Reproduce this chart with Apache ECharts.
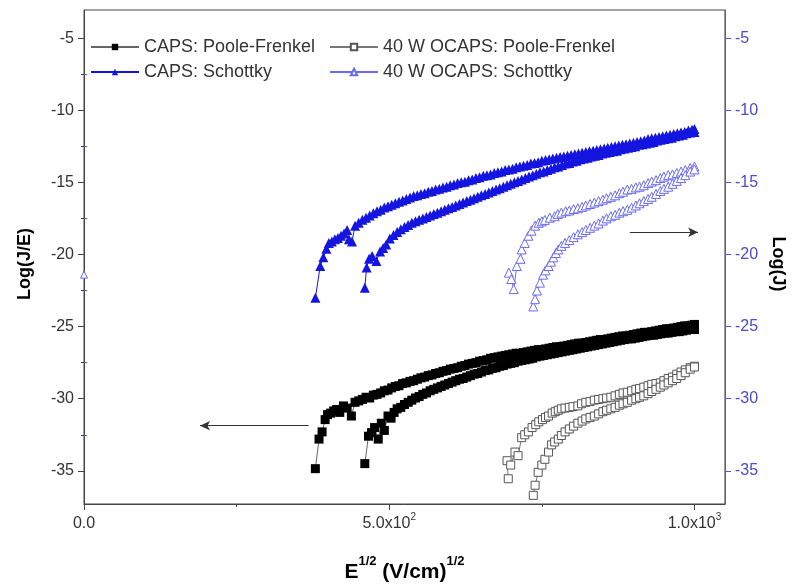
<!DOCTYPE html>
<html>
<head>
<meta charset="utf-8">
<script src="https://cdn.jsdelivr.net/npm/echarts@6/dist/echarts.min.js"></script>
<style>html,body{margin:0;padding:0;background:#fff;}#c{width:795px;height:588px;}</style>
</head>
<body>
<div id="c"></div>
<script>
// ---- data ----
const xTicks = [0, 500, 1000];
const xMinorTicks = [250, 750];
const yTicks = [-35, -30, -25, -20, -15, -10, -5];
const yMinorTicks = [-32.5, -27.5, -22.5, -17.5, -12.5, -7.5];

const capsPF_A = [[379,-34.85],[385,-32.8],[390,-32.3],[395,-31.45],[399,-31.1],[404,-31.0],[409,-30.85],[414,-30.75],[419,-30.95],[425,-30.5],[431,-30.65],[438,-31.2],[444,-30.25],[450,-30.15],[456,-30.05],[462,-29.9],[468,-29.95],[474,-29.75],[480,-29.7],[486,-29.6],[492,-29.45],[498,-29.4],[504,-29.25],[510,-29.15],[516,-29.1],[522,-28.95],[528,-28.9],[534,-28.8],[540,-28.75],[546,-28.65],[552,-28.55],[558,-28.5],[564,-28.4],[570,-28.35],[576,-28.25],[582,-28.2],[588,-28.1],[594,-28.05],[600,-27.95],[606,-27.9],[612,-27.85],[618,-27.75],[624,-27.7],[630,-27.6],[636,-27.55],[642,-27.5],[648,-27.4],[654,-27.35],[660,-27.3],[666,-27.2],[672,-27.15],[678,-27.1],[684,-27.05],[690,-27.0],[696,-26.95],[702,-26.9],[708,-26.85],[714,-26.85],[720,-26.8],[726,-26.75],[732,-26.7],[738,-26.65],[744,-26.6],[750,-26.6],[756,-26.55],[762,-26.5],[768,-26.45],[774,-26.4],[780,-26.4],[786,-26.35],[792,-26.3],[798,-26.25],[804,-26.2],[810,-26.15],[816,-26.15],[822,-26.1],[828,-26.05],[834,-26.0],[840,-25.95],[846,-25.9],[852,-25.9],[858,-25.85],[864,-25.8],[870,-25.75],[876,-25.7],[882,-25.65],[888,-25.65],[894,-25.6],[900,-25.55],[906,-25.5],[912,-25.45],[918,-25.4],[924,-25.4],[930,-25.35],[936,-25.3],[942,-25.25],[948,-25.2],[954,-25.15],[960,-25.15],[966,-25.1],[972,-25.05],[978,-25.0],[984,-24.95],[990,-24.95],[996,-24.9],[1000,-24.85]];
const capsPF_B = [[460,-34.5],[466,-32.6],[471,-32.35],[476,-32.0],[482,-32.8],[487,-31.7],[492,-32.2],[498,-31.2],[503,-31.35],[508,-30.95],[513,-30.7],[519,-30.6],[525,-30.4],[531,-30.25],[537,-30.1],[543,-29.95],[549,-29.85],[555,-29.7],[561,-29.6],[567,-29.45],[573,-29.35],[579,-29.25],[585,-29.15],[591,-29.05],[597,-28.95],[603,-28.85],[609,-28.75],[615,-28.65],[621,-28.6],[627,-28.5],[633,-28.4],[639,-28.3],[645,-28.25],[651,-28.15],[657,-28.05],[663,-28.0],[669,-27.9],[675,-27.85],[681,-27.75],[687,-27.7],[693,-27.6],[699,-27.55],[705,-27.5],[711,-27.4],[717,-27.35],[723,-27.3],[729,-27.25],[735,-27.2],[741,-27.1],[747,-27.05],[753,-27.0],[759,-26.95],[765,-26.9],[771,-26.85],[777,-26.8],[783,-26.75],[789,-26.7],[795,-26.65],[801,-26.6],[807,-26.55],[813,-26.5],[819,-26.45],[825,-26.4],[831,-26.35],[837,-26.3],[843,-26.25],[849,-26.2],[855,-26.15],[861,-26.1],[867,-26.05],[873,-26.0],[879,-25.95],[885,-25.9],[891,-25.85],[897,-25.85],[903,-25.8],[909,-25.75],[915,-25.7],[921,-25.65],[927,-25.6],[933,-25.6],[939,-25.55],[945,-25.5],[951,-25.45],[957,-25.45],[963,-25.4],[969,-25.35],[975,-25.35],[981,-25.3],[987,-25.25],[993,-25.2],[1000,-25.2]];

const ocapsPF_A = [[695,-35.55],[693,-34.3],[699,-34.6],[706,-33.7],[711,-33.95],[717,-32.7],[722,-32.5],[728,-32.3],[734,-32.0],[740,-31.8],[745,-31.6],[751,-31.45],[756,-31.3],[761,-31.2],[767,-31.0],[772,-30.9],[777,-30.8],[782,-30.7],[788,-30.65],[795,-30.6],[801,-30.55],[809,-30.5],[815,-30.35],[822,-30.25],[829,-30.2],[836,-30.1],[843,-30.05],[850,-30.0],[856,-29.95],[863,-29.9],[870,-29.8],[877,-29.7],[883,-29.6],[890,-29.55],[897,-29.45],[904,-29.35],[910,-29.3],[917,-29.2],[924,-29.1],[930,-29.0],[937,-28.95],[944,-28.9],[950,-28.75],[957,-28.6],[964,-28.5],[971,-28.3],[978,-28.15],[985,-28.0],[993,-27.85],[1000,-27.75]];
const ocapsPF_B = [[736,-36.7],[739,-36.0],[744,-35.1],[750,-34.6],[755,-34.2],[761,-33.7],[766,-33.2],[771,-33.0],[777,-32.8],[782,-32.55],[788,-32.3],[795,-32.1],[802,-31.9],[809,-31.7],[816,-31.55],[822,-31.4],[829,-31.3],[836,-31.2],[843,-31.05],[850,-30.9],[856,-30.8],[863,-30.7],[870,-30.6],[877,-30.45],[883,-30.35],[890,-30.25],[897,-30.1],[904,-30.0],[910,-29.9],[917,-29.8],[924,-29.65],[930,-29.5],[937,-29.35],[944,-29.2],[950,-29.05],[957,-28.9],[964,-28.75],[971,-28.6],[978,-28.4],[985,-28.2],[993,-27.95],[1000,-27.8]];

const capsSch_A = [[379,-23.0],[387,-20.8],[392,-20.2],[397,-19.6],[401,-19.2],[406,-19.1],[411,-18.95],[416,-18.85],[421,-18.7],[426,-18.55],[431,-18.3],[434,-18.95],[439,-19.1],[444,-18.0],[450,-17.8],[456,-17.6],[462,-17.45],[468,-17.3],[474,-17.15],[480,-17.0],[486,-16.9],[492,-16.75],[498,-16.65],[504,-16.55],[510,-16.45],[516,-16.35],[522,-16.25],[528,-16.15],[534,-16.05],[540,-15.95],[546,-15.9],[552,-15.8],[558,-15.75],[564,-15.65],[570,-15.6],[576,-15.5],[582,-15.45],[588,-15.35],[594,-15.3],[600,-15.2],[606,-15.15],[612,-15.05],[618,-15.0],[624,-14.95],[630,-14.85],[636,-14.8],[642,-14.7],[648,-14.65],[654,-14.55],[660,-14.5],[666,-14.45],[672,-14.35],[678,-14.3],[684,-14.25],[690,-14.15],[696,-14.1],[702,-14.05],[708,-13.95],[714,-13.9],[720,-13.85],[726,-13.8],[732,-13.7],[738,-13.65],[744,-13.6],[750,-13.5],[756,-13.45],[762,-13.4],[768,-13.35],[774,-13.3],[780,-13.25],[786,-13.2],[792,-13.15],[798,-13.1],[804,-13.05],[810,-13.0],[816,-12.95],[822,-12.9],[828,-12.85],[834,-12.8],[840,-12.75],[846,-12.7],[852,-12.65],[858,-12.6],[864,-12.55],[870,-12.5],[876,-12.45],[882,-12.4],[888,-12.35],[894,-12.3],[900,-12.25],[906,-12.2],[912,-12.15],[918,-12.1],[924,-12.0],[930,-11.95],[936,-11.9],[942,-11.85],[948,-11.8],[954,-11.75],[960,-11.7],[966,-11.65],[972,-11.6],[978,-11.55],[984,-11.5],[990,-11.4],[996,-11.35],[1000,-11.3]];
const capsSch_B = [[460,-22.3],[463,-20.9],[467,-20.3],[472,-20.1],[479,-20.45],[485,-19.8],[490,-19.55],[495,-19.3],[501,-18.9],[507,-18.65],[513,-18.45],[519,-18.25],[525,-18.1],[531,-17.95],[537,-17.8],[543,-17.7],[549,-17.6],[555,-17.5],[561,-17.4],[567,-17.3],[573,-17.2],[579,-17.1],[585,-17.0],[591,-16.9],[597,-16.8],[603,-16.7],[609,-16.6],[615,-16.5],[621,-16.4],[627,-16.3],[633,-16.2],[639,-16.1],[645,-16.0],[651,-15.9],[657,-15.8],[663,-15.7],[669,-15.6],[675,-15.5],[681,-15.4],[687,-15.3],[693,-15.2],[699,-15.1],[705,-15.0],[711,-14.9],[717,-14.8],[723,-14.7],[729,-14.6],[735,-14.5],[741,-14.4],[747,-14.3],[753,-14.25],[759,-14.15],[765,-14.05],[771,-13.95],[777,-13.9],[783,-13.8],[789,-13.7],[795,-13.65],[801,-13.55],[807,-13.5],[813,-13.4],[819,-13.35],[825,-13.3],[831,-13.2],[837,-13.15],[843,-13.1],[849,-13.0],[855,-12.95],[861,-12.9],[867,-12.85],[873,-12.8],[879,-12.7],[885,-12.65],[891,-12.6],[897,-12.55],[903,-12.5],[909,-12.4],[915,-12.35],[921,-12.3],[927,-12.25],[933,-12.2],[939,-12.1],[945,-12.05],[951,-12.0],[957,-11.95],[963,-11.9],[969,-11.8],[975,-11.75],[981,-11.7],[987,-11.6],[993,-11.55],[1000,-11.5]];

const ocapsSch_A = [[696,-21.26],[700,-21.7],[704,-22.4],[709,-20.8],[715,-20.3],[717,-19.65],[722,-19.2],[728,-18.7],[733,-18.35],[739,-18.0],[745,-17.8],[750,-17.7],[755,-17.6],[763,-17.45],[771,-17.35],[776,-17.2],[782,-17.1],[789,-17.0],[795,-16.95],[802,-16.85],[809,-16.8],[816,-16.7],[822,-16.6],[829,-16.5],[836,-16.4],[843,-16.3],[850,-16.2],[856,-16.1],[863,-16.0],[870,-15.9],[877,-15.75],[883,-15.65],[890,-15.5],[897,-15.45],[904,-15.35],[910,-15.3],[917,-15.2],[924,-15.05],[930,-14.95],[937,-14.85],[944,-14.7],[950,-14.6],[957,-14.5],[964,-14.45],[971,-14.35],[978,-14.25],[985,-14.15],[993,-14.0],[1000,-13.9]];
const ocapsSch_B = [[736,-23.6],[739,-23.1],[742,-22.5],[747,-21.95],[752,-21.4],[756,-21.1],[761,-20.8],[765,-20.5],[769,-20.2],[773,-19.9],[777,-19.65],[782,-19.4],[788,-19.2],[795,-19.0],[802,-18.8],[809,-18.6],[816,-18.45],[822,-18.3],[829,-18.15],[836,-18.0],[843,-17.85],[850,-17.65],[856,-17.5],[863,-17.35],[870,-17.25],[877,-17.1],[883,-17.0],[890,-16.9],[897,-16.75],[904,-16.6],[910,-16.45],[917,-16.3],[924,-16.15],[930,-16.0],[937,-15.8],[944,-15.6],[950,-15.45],[957,-15.3],[964,-15.1],[971,-14.9],[978,-14.7],[985,-14.5],[993,-14.25],[1000,-14.1]];
const ocapsSch_stray = [[0,-21.4]];

const arrowLeft = [[368,-31.87],[190,-31.87]];
const arrowRight = [[894,-18.46],[1006,-18.46]];

const names = ['CAPS: Poole-Frenkel','CAPS: Schottky','40 W OCAPS: Poole-Frenkel','40 W OCAPS: Schottky'];

// ---- chart ----
const FF = "'Liberation Sans', Arial, Helvetica, sans-serif";
const chart = echarts.init(document.getElementById('c'), null, {renderer:'canvas'});
const axisGray = '#444';
const blueAxis = '#5555cc';
const Y_MIN = -37.3, Y_MAX = -3.05, X_MIN = 0, X_MAX = 1050;

function yAxisMain(pos, color, labelColor, name, nameGap, nameRotate, namePad) {
  return {
    type:'value', min:Y_MIN, max:Y_MAX, position:pos,
    axisLine:{show:true, onZero:false, lineStyle:{color:color, width:1}},
    axisTick:{show:true, inside:false, length:6, customValues:yTicks, lineStyle:{color:color}},
    axisLabel:{show:true, customValues:yTicks, formatter:v=>String(v), color:labelColor, fontSize:16, fontFamily:FF, margin:10},
    splitLine:{show:false},
    name:name, nameLocation:'middle', nameGap:nameGap, nameRotate:nameRotate,
    nameTextStyle:{fontSize:18, fontWeight:'bold', color:'#000', fontFamily:FF, padding:namePad}
  };
}
function yAxisMinor(pos, color) {
  return {
    type:'value', min:Y_MIN, max:Y_MAX, position:pos,
    axisLine:{show:false}, axisLabel:{show:false}, splitLine:{show:false},
    axisTick:{show:true, inside:false, length:3, customValues:yMinorTicks, lineStyle:{color:color}}
  };
}

const baseSeries = {type:'line', showSymbol:true, showAllSymbol:true, animation:false, silent:true, z:3};
function mk(name, data, yIdx, symbol, size, itemStyle, lineColor, extra) {
  return Object.assign({}, baseSeries, {
    name:name, data:data, xAxisIndex:0, yAxisIndex:yIdx,
    symbol:symbol, symbolSize:size, itemStyle:itemStyle,
    lineStyle:{color:lineColor, width:1}
  }, extra || {});
}

const black = {color:'#000'};
const openSq = {color:'#fff', borderColor:'#555', borderWidth:1};
const blueFill = {color:'#1515e0'};
const openTri = {color:'#fff', borderColor:'#6a6af0', borderWidth:1};

const arrowML = (pts) => ({
  silent:true, symbol:['none','arrow'], symbolSize:[7,10], animation:false,
  lineStyle:{color:'#333', width:1, type:'solid'}, label:{show:false},
  emphasis:{disabled:true},
  data:[[{coord:pts[0]},{coord:pts[1]}]]
});

const option = {
  backgroundColor:'#fff',
  animation:false,
  grid:{left:84, right:65, top:10, bottom:83, show:true, borderColor:axisGray, borderWidth:1, backgroundColor:'transparent'},
  legend:[
    {data:[names[0], names[1]], left:85, top:33, orient:'vertical', itemWidth:48, itemHeight:8, itemGap:7,
     selectedMode:false, textStyle:{fontSize:18, color:'#333', fontFamily:FF}},
    {data:[names[2], names[3]], left:324, top:33, orient:'vertical', itemWidth:48, itemHeight:8, itemGap:7,
     selectedMode:false, textStyle:{fontSize:18, color:'#333', fontFamily:FF}}
  ],
  xAxis:[
    {type:'value', min:X_MIN, max:X_MAX, position:'bottom',
     axisLine:{show:true, onZero:false, lineStyle:{color:axisGray}},
     axisTick:{show:true, inside:false, length:6, customValues:xTicks, lineStyle:{color:axisGray}},
     axisLabel:{show:true, customValues:xTicks, margin:8, color:'#333', fontFamily:FF,
       formatter:v=> v===0 ? '{a|0.0}' : (v===500 ? '{a|5.0x10}{s|2}' : '{a|1.0x10}{s|3}'),
       rich:{a:{fontSize:16, fontFamily:FF, color:'#333', lineHeight:20, verticalAlign:'bottom'},
             s:{fontSize:10, fontFamily:FF, color:'#333', lineHeight:20, verticalAlign:'top'}}},
     splitLine:{show:false},
     name:'{b|E}{s|1/2}{b| (V/cm)}{s|1/2}', nameLocation:'middle', nameGap:51,
     nameTextStyle:{rich:{
       b:{fontSize:21, fontWeight:'bold', fontFamily:FF, color:'#000', lineHeight:28, verticalAlign:'bottom'},
       s:{fontSize:13, fontWeight:'bold', fontFamily:FF, color:'#000', lineHeight:28, verticalAlign:'top'}}}},
    {type:'value', min:X_MIN, max:X_MAX, position:'bottom',
     axisLine:{show:false}, axisLabel:{show:false}, splitLine:{show:false},
     axisTick:{show:true, inside:false, length:3, customValues:xMinorTicks, lineStyle:{color:axisGray}}}
  ],
  yAxis:[
    yAxisMain('left', axisGray, '#333', 'Log(J/E)', 50, 90, [0,14,0,0]),
    yAxisMinor('left', axisGray),
    yAxisMain('right', blueAxis, '#4b4bc8', 'Log(J)', 36, -90, [0,0,0,14]),
    yAxisMinor('right', blueAxis)
  ],
  series:[
    mk(names[0], capsPF_A, 0, 'rect', 9, black, '#666', {markLine:arrowML(arrowLeft)}),
    mk(names[0], capsPF_B, 0, 'rect', 9, black, '#666'),
    mk(names[2], ocapsPF_A, 0, 'rect', 8, openSq, '#777'),
    mk(names[2], ocapsPF_B, 0, 'rect', 8, openSq, '#777'),
    mk(names[1], capsSch_A, 2, 'triangle', 10, blueFill, '#1515e0', {markLine:arrowML(arrowRight)}),
    mk(names[1], capsSch_B, 2, 'triangle', 10, blueFill, '#1515e0'),
    mk(names[3], ocapsSch_A, 2, 'triangle', 9, openTri, '#6a6af0'),
    mk(names[3], ocapsSch_B, 2, 'triangle', 9, openTri, '#6a6af0'),
    mk(names[3], ocapsSch_stray, 2, 'triangle', 7, openTri, '#6a6af0')
  ]
};
chart.setOption(option);
</script>
</body>
</html>
